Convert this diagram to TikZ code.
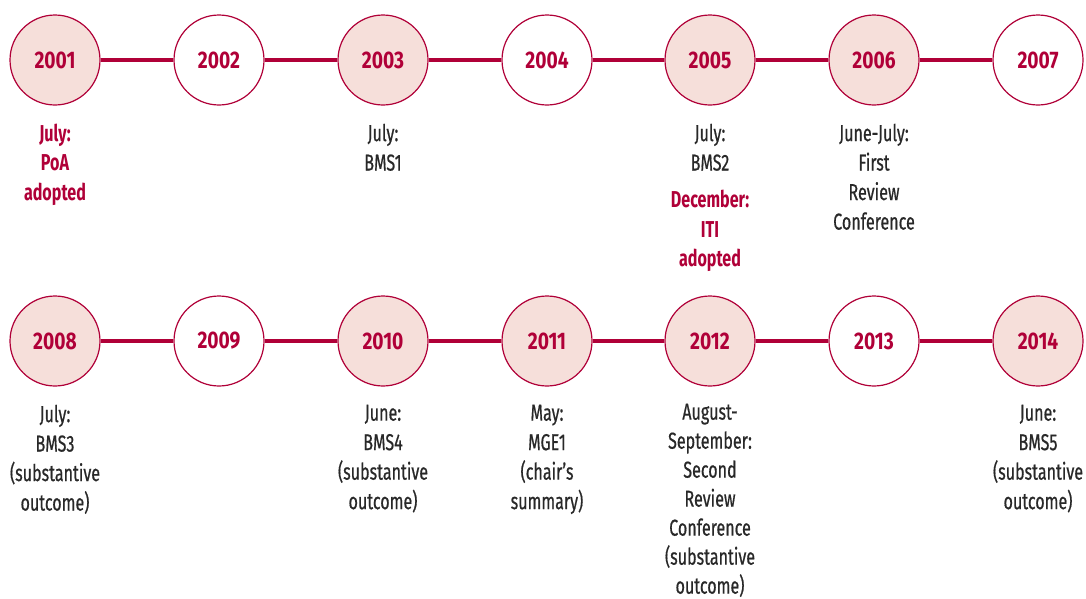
\documentclass[tikz,border=0pt]{standalone}
\usepackage{fontspec}
\setmainfont[FakeStretch=0.7]{Fira Sans}
\newfontfamily\notefont[FakeStretch=0.7, FakeBold=0.6]{Fira Sans}
\newfontfamily\yearfont[FakeStretch=0.8]{Fira Sans}
\usetikzlibrary{positioning}
\definecolor{tlred}{RGB}{176,0,56}
\definecolor{tlpink}{RGB}{246,223,218}
\definecolor{tltext}{RGB}{40,40,40}

\begin{document}
\begin{tikzpicture}[x=1pt, y=1pt,
  year/.style={circle, draw=tlred, line width=1.2pt, minimum size=90pt, inner sep=0pt, fill=white, text=tlred, font=\fontsize{24}{28}\selectfont\yearfont\bfseries},
  hit/.style={year, fill=tlpink},
  link/.style={draw=tlred, line width=4.5pt},
  note/.style={align=center, inner sep=0pt, text=tltext, font=\fontsize{23}{29.5}\selectfont\notefont},
  keynote/.style={note, text=tlred, font=\fontsize{23}{29.5}\selectfont\bfseries}]
  \useasboundingbox (0,0) rectangle (1086,-598);

  % first row
  \node[hit]  (y2001) at (55,-60) {2001};
  \node[year] (y2002) at (219,-60) {2002};
  \node[hit]  (y2003) at (383,-60) {2003};
  \node[year] (y2004) at (547,-60) {2004};
  \node[hit]  (y2005) at (710,-60) {2005};
  \node[hit]  (y2006) at (874,-60) {2006};
  \node[year] (y2007) at (1038,-60) {2007};
  \foreach \a/\b in {2001/2002, 2002/2003, 2003/2004, 2004/2005, 2005/2006, 2006/2007}
    \draw[link] (y\a) -- (y\b);

  % second row
  \node[hit]  (y2008) at (55,-341) {2008};
  \node[year] (y2009) at (219,-341) {2009};
  \node[hit]  (y2010) at (383,-341) {2010};
  \node[hit]  (y2011) at (547,-341) {2011};
  \node[hit]  (y2012) at (710,-341) {2012};
  \node[year] (y2013) at (874,-341) {2013};
  \node[hit]  (y2014) at (1038,-341) {2014};
  \foreach \a/\b in {2008/2009, 2009/2010, 2010/2011, 2011/2012, 2012/2013, 2013/2014}
    \draw[link] (y\a) -- (y\b);

  % events
  \node[keynote, below=18pt of y2001] (e2001) {July:\\PoA\\adopted};
  \node[note, below=18pt of y2003] (e2003) {July:\\BMS1};
  \node[note, below=18pt of y2005] (e2005) {July:\\BMS2};
  \node[keynote, below=19pt of e2005] (e2005b) {December:\\ITI\\adopted};
  \node[note, below=18pt of y2006] (e2006) {June-July:\\First\\Review\\Conference};
  \node[note, below=18pt of y2008] (e2008) {July:\\BMS3\\(substantive\\outcome)};
  \node[note, below=18pt of y2010] (e2010) {June:\\BMS4\\(substantive\\outcome)};
  \node[note, below=18pt of y2011] (e2011) {May:\\MGE1\\(chair’s\\summary)};
  \node[note, below=17pt of y2012, font=\fontsize{23}{29}\selectfont\notefont] (e2012) {August-\\September:\\Second\\Review\\Conference\\(substantive\\outcome)};
  \node[note, below=18pt of y2014] (e2014) {June:\\BMS5\\(substantive\\outcome)};
\end{tikzpicture}
\end{document}
